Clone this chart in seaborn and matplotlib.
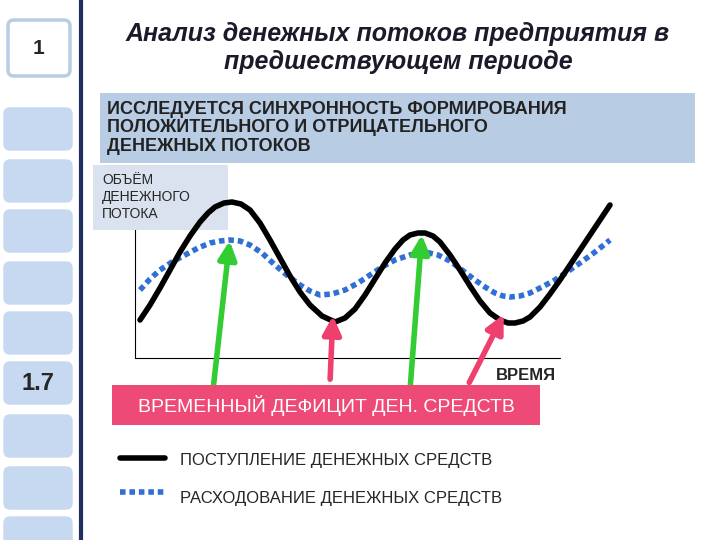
import numpy as np
import pandas as pd
import matplotlib
matplotlib.use("Agg")
import matplotlib.pyplot as plt
from matplotlib.patches import FancyBboxPatch, Rectangle
import seaborn as sns

sns.set_theme(style="white")
plt.rcParams['font.family'] = ['Liberation Sans', 'DejaVu Sans']

# данные (координаты в пикселях слайда)
inflow_x = [140, 150, 160, 170, 180, 190, 200, 208, 215, 224, 232, 241, 250, 260, 270, 280, 290, 300, 310, 322, 335,
            345, 355, 365, 375, 385, 395, 403, 410, 418, 425, 433, 440, 450, 460, 470, 480, 490, 500, 508, 515, 523,
            530, 540, 550, 560, 570, 580, 590, 600, 610]
inflow_y = [320, 305, 288, 270, 252, 236, 222, 213, 207, 203, 202, 204, 210, 223, 240, 258, 276, 292, 305, 316, 322,
            318, 309, 295, 279, 263, 249, 240, 235, 233, 233, 236, 242, 255, 270, 286, 301, 313, 320, 323, 323, 321,
            317, 307, 294, 280, 265, 250, 235, 220, 205]
outflow_x = [140, 150, 160, 172, 185, 198, 210, 220, 230, 240, 250, 262, 275, 288, 300, 310, 320, 332, 345, 358, 370,
             382, 395, 410, 425, 438, 450, 462, 475, 485, 495, 503, 510, 520, 530, 542, 555, 567, 580, 595, 610]
outflow_y = [290, 279, 270, 262, 255, 248, 243, 241, 240, 241, 245, 253, 265, 276, 285, 291, 295, 294, 290, 283, 275,
             267, 260, 255, 252, 255, 261, 270, 280, 287, 293, 296, 297, 296, 293, 287, 280, 272, 263, 252, 240]

green_arrows = [((213, 390), (230, 238)), ((410, 390), (422, 232))]
pink_arrows = [((330, 382), (333, 313)), ((468, 385), (505, 312))]

side_boxes = [108, 160, 210, 262, 312, 362, 415, 467, 517]

fig = plt.figure(figsize=(7.2, 5.4), dpi=100)
ax = fig.add_axes([0, 0, 1, 1])
ax.set_xlim(0, 720)
ax.set_ylim(540, 0)
ax.axis('off')

# левая панель
ax.add_patch(FancyBboxPatch((8, 20), 62, 56, boxstyle="round,pad=0,rounding_size=6",
                            fc='white', ec='#b8cce4', lw=2.5))
ax.text(39, 49, "1", fontsize=15, fontweight='bold', ha='center', va='center')
for y in side_boxes:
    ax.add_patch(FancyBboxPatch((4, y), 68, 42, boxstyle="round,pad=0,rounding_size=6",
                                fc='#c6d9f1', ec='#c6d9f1'))
ax.text(38, 384, "1.7", fontsize=17, fontweight='bold', ha='center', va='center')
ax.plot([81, 81], [0, 540], color='#1f2f5f', lw=3)

# заголовок
ax.text(398, 48, "Анализ денежных потоков предприятия в\nпредшествующем периоде",
        fontsize=18, fontweight='bold', style='italic', ha='center', va='center',
        color='#1a1a2a', linespacing=1.2)

ax.add_patch(Rectangle((100, 93), 595, 70, fc='#b8cce4', ec='none'))
ax.text(107, 128, "ИССЛЕДУЕТСЯ СИНХРОННОСТЬ ФОРМИРОВАНИЯ\nПОЛОЖИТЕЛЬНОГО И ОТРИЦАТЕЛЬНОГО\nДЕНЕЖНЫХ ПОТОКОВ",
        fontsize=13, fontweight='bold', ha='left', va='center', color='#222222', linespacing=1.1)

# оси графика
ax.plot([135, 135], [165, 358], color='black', lw=0.8, zorder=1)
ax.plot([135, 560], [358, 358], color='black', lw=0.8)
ax.add_patch(Rectangle((93, 165), 135, 65, fc='#d9e2ee', ec='none', zorder=2))
ax.text(102, 197, "ОБЪЁМ\nДЕНЕЖНОГО\nПОТОКА", fontsize=10, ha='left', va='center', linespacing=1.3, zorder=3)
ax.text(556, 376, "ВРЕМЯ", fontsize=12, fontweight='bold', ha='right', va='center')

df_in = pd.DataFrame({'x': inflow_x, 'y': inflow_y})
df_out = pd.DataFrame({'x': outflow_x, 'y': outflow_y})
sns.lineplot(data=df_out, x='x', y='y', ax=ax, color='#2f6fd6', lw=4, linestyle=(0, (1, 0.7)),
             sort=False, estimator=None, zorder=4)
sns.lineplot(data=df_in, x='x', y='y', ax=ax, color='black', lw=4, sort=False, estimator=None,
             zorder=4, solid_joinstyle='round')

for (x0, y0), (x1, y1) in green_arrows:
    ax.annotate("", xy=(x1, y1), xytext=(x0, y0), zorder=5,
                arrowprops=dict(arrowstyle='-|>,head_length=0.9,head_width=0.45', color='#33cc33', lw=4))
for (x0, y0), (x1, y1) in pink_arrows:
    ax.annotate("", xy=(x1, y1), xytext=(x0, y0), zorder=5,
                arrowprops=dict(arrowstyle='-|>,head_length=0.9,head_width=0.45', color='#ee3f6f', lw=4))

ax.add_patch(Rectangle((112, 385), 428, 40, fc='#ee4a78', ec='none', zorder=6))
ax.text(326, 406, "ВРЕМЕННЫЙ ДЕФИЦИТ ДЕН. СРЕДСТВ", fontsize=14, color='white',
        ha='center', va='center', zorder=7)

# легенда
ax.plot([120, 165], [458, 458], color='black', lw=4)
ax.plot([120, 165], [492, 492], color='#2f6fd6', lw=4, linestyle=(0, (1, 0.7)))
ax.text(180, 461, "ПОСТУПЛЕНИЕ ДЕНЕЖНЫХ СРЕДСТВ", fontsize=12, ha='left', va='center')
ax.text(180, 499, "РАСХОДОВАНИЕ ДЕНЕЖНЫХ СРЕДСТВ", fontsize=12, ha='left', va='center')

fig.savefig("out.png", dpi=100)
